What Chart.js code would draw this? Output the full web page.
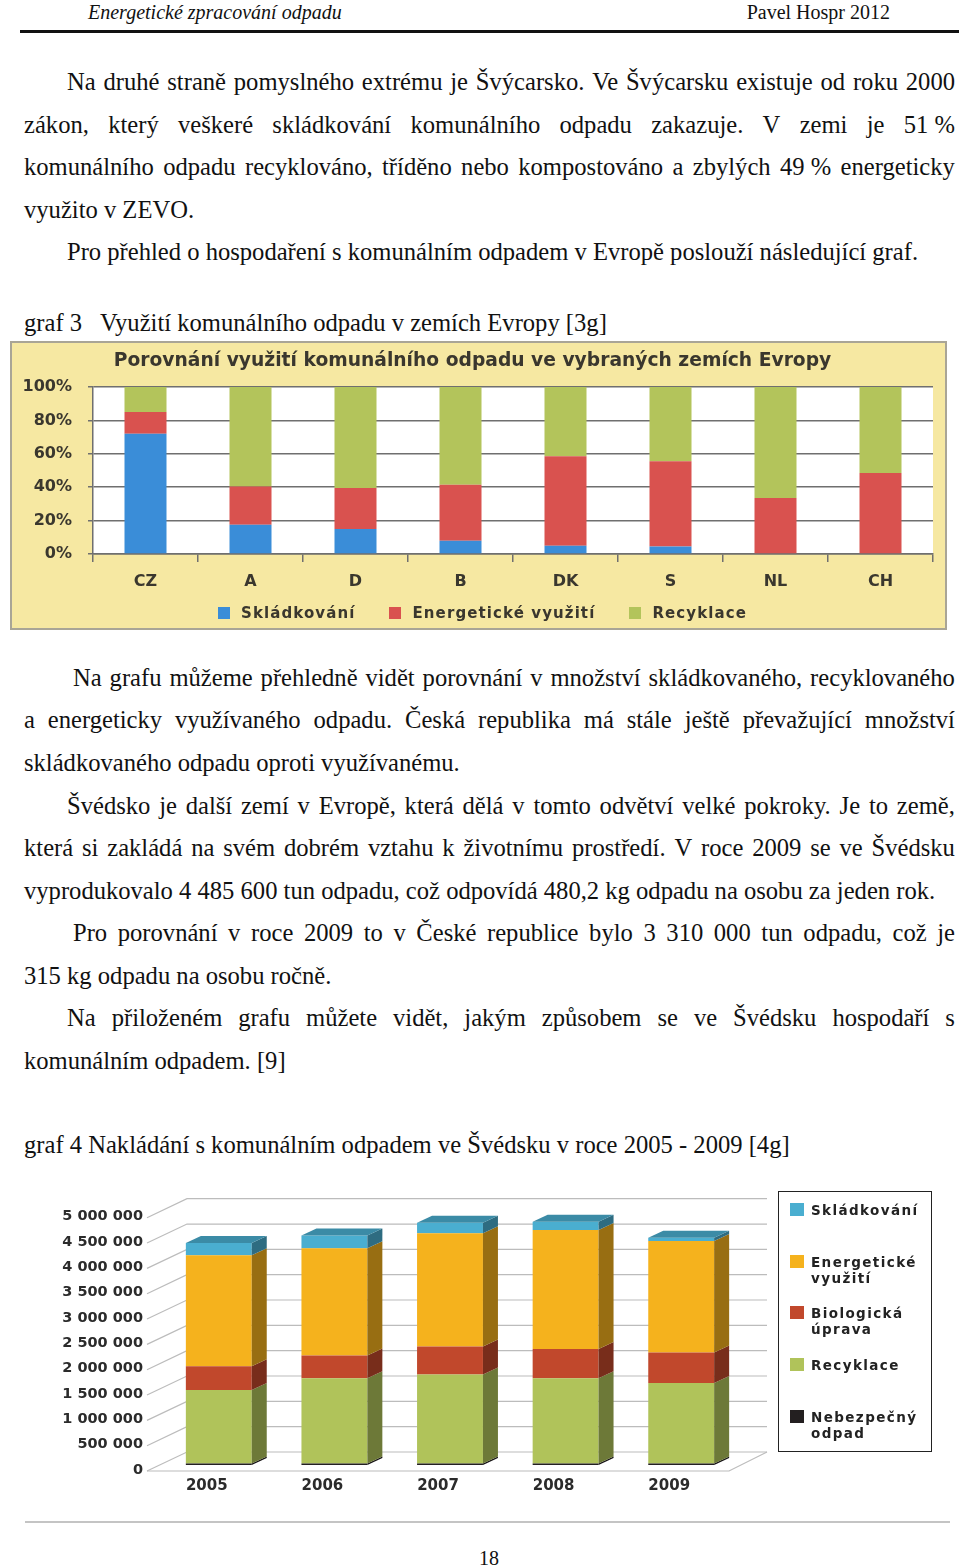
<!DOCTYPE html>
<html>
<head>
<meta charset="utf-8">
<script src="https://cdn.jsdelivr.net/npm/chart.js@4.4.1/dist/chart.umd.min.js"></script>
<style>
  body { margin: 0; background: #fff; }
  .page { position: relative; width: 960px; height: 1568px; overflow: hidden; font-family: "Liberation Serif", "Times New Roman", serif; color: #111; }
  .ln { position: absolute; height: 42px; line-height: 42px; font-size: 24.6px; white-space: nowrap; }
  .j { display: flex; justify-content: space-between; }
  .hdr { position: absolute; top: 0; font-size: 20px; line-height: 24px; }
  #box1 { position: absolute; left: 10px; top: 341px; width: 937px; height: 289px; box-sizing: border-box; border: 2px solid #a9a596; background: #f6e8a2; }
  #box2 { position: absolute; left: 25px; top: 1185px; width: 925px; height: 315px; }
  #legend1 { position: absolute; left: 218px; top: 603px; height: 20px; display: flex; align-items: center; font: bold 15px "DejaVu Sans", sans-serif; letter-spacing: 1.1px; color: #3a372e; }
  #legend1 .it { display: flex; align-items: center; margin-right: 34px; }
  #legend1 .sw { width: 12px; height: 12px; margin-right: 11px; }
  #legend2 { position: absolute; left: 778px; top: 1191px; width: 154px; height: 261px; box-sizing: border-box; border: 1.5px solid #222; background: #fff; padding-top: 10px; }
  #legend2 .it { position: relative; height: 51.7px; font: bold 13.5px "DejaVu Sans", sans-serif; letter-spacing: 1.4px; line-height: 16px; color: #222; padding-left: 32px; }
  #legend2 .sw { position: absolute; left: 11px; top: 1px; width: 14px; height: 13px; }
</style>
</head>
<body>
<div class="page">
  <div class="hdr" style="left:88px;font-style:italic;">Energetické zpracování odpadu</div>
  <div class="hdr" style="right:70px;">Pavel Hospr 2012</div>
  <div style="position:absolute;left:20px;top:30px;width:939px;height:3px;background:#111;"></div>

  <div class="ln j" style="left:67px;width:888px;top:61px;">Na druhé straně pomyslného extrému je Švýcarsko. Ve Švýcarsku existuje od roku 2000</div>
  <div class="ln j" style="left:24px;width:931px;top:104px;">zákon, který veškeré skládkování komunálního odpadu zakazuje. V zemi je 51&nbsp;%</div>
  <div class="ln j" style="left:24px;width:931px;top:146px;">komunálního odpadu recyklováno, tříděno nebo kompostováno a zbylých 49&nbsp;% energeticky</div>
  <div class="ln" style="left:24px;top:189px;">využito v ZEVO.</div>
  <div class="ln" style="left:67px;top:231px;">Pro přehled o hospodaření s komunálním odpadem v Evropě poslouží následující graf.</div>
  <div class="ln" style="left:24px;top:302px;">graf 3&nbsp;&nbsp; Využití komunálního odpadu v zemích Evropy [3g]</div>

  <div id="box1"><canvas id="chart1"></canvas></div>
  <div id="legend1"></div>

  <div class="ln j" style="left:73px;width:882px;top:657px;">Na grafu můžeme přehledně vidět porovnání v množství skládkovaného, recyklovaného</div>
  <div class="ln j" style="left:24px;width:931px;top:699px;">a energeticky využívaného odpadu. Česká republika má stále ještě převažující množství</div>
  <div class="ln" style="left:24px;top:742px;">skládkovaného odpadu oproti využívanému.</div>
  <div class="ln j" style="left:67px;width:888px;top:785px;">Švédsko je další zemí v Evropě, která dělá v tomto odvětví velké pokroky. Je to země,</div>
  <div class="ln j" style="left:24px;width:931px;top:827px;">která si zakládá na svém dobrém vztahu k životnímu prostředí. V roce 2009 se ve Švédsku</div>
  <div class="ln" style="left:24px;top:870px;">vyprodukovalo 4 485 600 tun odpadu, což odpovídá 480,2 kg odpadu na osobu za jeden rok.</div>
  <div class="ln j" style="left:73px;width:882px;top:912px;">Pro porovnání v roce 2009 to v České republice bylo 3 310 000 tun odpadu, což je</div>
  <div class="ln" style="left:24px;top:955px;">315 kg odpadu na osobu ročně.</div>
  <div class="ln j" style="left:67px;width:888px;top:997px;">Na přiloženém grafu můžete vidět, jakým způsobem se ve Švédsku hospodaří s</div>
  <div class="ln" style="left:24px;top:1040px;">komunálním odpadem. [9]</div>
  <div class="ln" style="left:24px;top:1124px;">graf 4 Nakládání s komunálním odpadem ve Švédsku v roce 2005 - 2009 [4g]</div>

  <div id="box2"><canvas id="chart2"></canvas></div>
  <div id="legend2"></div>

  <div style="position:absolute;left:25px;top:1521px;width:925px;height:2px;background:#c4c4c4;"></div>
  <div class="hdr" style="top:1546px;left:0;width:978px;text-align:center;">18</div>
</div>

<script>
// graf 3 - podily v %
const countries = ['CZ', 'A', 'D', 'B', 'DK', 'S', 'NL', 'CH'];
const skladkovani = [72, 17.5, 15, 8, 5, 4.5, 0, 0];
const energeticke = [13, 23, 24.5, 33.5, 53.5, 51, 33.5, 48.5];
const recyklace = [15, 59.5, 60.5, 58.5, 41.5, 44.5, 66.5, 51.5];
const percentTicks = [0, 20, 40, 60, 80, 100];

// graf 4 - Svedsko, tuny
const years = ['2005', '2006', '2007', '2008', '2009'];
const svNebezpecny = [30000, 30000, 30000, 30000, 30000];
const svRecyklace = [1450000, 1680000, 1755000, 1680000, 1590000];
const svBiologicka = [470000, 450000, 555000, 580000, 600000];
const svEnergeticke = [2190000, 2120000, 2235000, 2350000, 2200000];
const svSkladkovani = [240000, 250000, 205000, 160000, 65000];
const tonTicks = [0, 500000, 1000000, 1500000, 2000000, 2500000, 3000000, 3500000, 4000000, 4500000, 5000000];

// justified lines -> flex of words
document.querySelectorAll('.j').forEach(function (el) {
  const words = el.textContent.split(' ');
  el.textContent = '';
  words.forEach(function (w) {
    const s = document.createElement('span');
    s.textContent = w;
    el.appendChild(s);
  });
});

const sans = '"DejaVu Sans", Verdana, sans-serif';

function htmlLegend(el, datasets, lines) {
  datasets.forEach(function (ds) {
    const it = document.createElement('div');
    it.className = 'it';
    const sw = document.createElement('span');
    sw.className = 'sw';
    sw.style.background = ds.backgroundColor;
    it.appendChild(sw);
    (lines ? lines[ds.label] : [ds.label]).forEach(function (t) {
      const d = document.createElement('div');
      d.textContent = t;
      it.appendChild(d);
    });
    el.appendChild(it);
  });
}

const whiteArea = {
  id: 'whiteArea',
  beforeDraw(chart) {
    const a = chart.chartArea;
    chart.ctx.save();
    chart.ctx.fillStyle = '#ffffff';
    chart.ctx.fillRect(a.left, a.top, a.right - a.left, a.bottom - a.top);
    chart.ctx.restore();
  }
};

const series1 = [
  { label: 'Skládkování', data: skladkovani, backgroundColor: '#3a8dd8' },
  { label: 'Energetické využití', data: energeticke, backgroundColor: '#d9524f' },
  { label: 'Recyklace', data: recyklace, backgroundColor: '#b3c45b' }
];

new Chart(document.getElementById('chart1'), {
  type: 'bar',
  data: { labels: countries, datasets: series1 },
  options: {
    responsive: true,
    maintainAspectRatio: false,
    animation: false,
    categoryPercentage: 1,
    barPercentage: 0.4,
    layout: { padding: { left: 0, right: 12, top: 0, bottom: 31 } },
    plugins: {
      title: {
        display: true,
        text: 'Porovnání využití komunálního odpadu ve vybraných zemích Evropy',
        color: '#3a372e',
        font: { family: sans, size: 18.7, weight: 'bold', lineHeight: 1.2 },
        padding: { top: 6.8, bottom: 14.8 }
      },
      legend: { display: false },
      tooltip: { enabled: false }
    },
    scales: {
      x: {
        stacked: true,
        grid: { offset: true, drawOnChartArea: false, tickLength: 8, color: '#6f6f6f', lineWidth: 1.5 },
        border: { color: '#6f6f6f', width: 1.5 },
        ticks: { color: '#3a372e', padding: 10, font: { family: sans, size: 16, weight: 'bold' } },
        afterFit(s) { s.height = 43; }
      },
      y: {
        stacked: true,
        min: 0,
        max: 100,
        afterBuildTicks(s) { s.ticks = percentTicks.map(v => ({ value: v })); },
        grid: { color: '#6f6f6f', lineWidth: 1.5, tickLength: 5 },
        border: { color: '#6f6f6f', width: 1.5 },
        ticks: { color: '#3a372e', padding: 16, font: { family: sans, size: 16, weight: 'bold' }, callback: v => v + '%' },
        afterFit(s) { s.width = 81; }
      }
    }
  },
  plugins: [whiteArea]
});
htmlLegend(document.getElementById('legend1'), series1);

// 3D look for graf 4: side and top faces from bar elements
function shade(hex, f) {
  const n = parseInt(hex.slice(1), 16);
  const r = Math.round(((n >> 16) & 255) * f), g = Math.round(((n >> 8) & 255) * f), b = Math.round((n & 255) * f);
  return 'rgb(' + r + ',' + g + ',' + b + ')';
}
const faces = {
  id: 'faces',
  afterDatasetsDraw(chart) {
    const ctx = chart.ctx, dx = 15, dy = 7;
    const last = chart.data.datasets.length - 1;
    chart.data.datasets.forEach(function (ds, i) {
      chart.getDatasetMeta(i).data.forEach(function (bar) {
        const p = bar.getProps(['x', 'y', 'base', 'width'], true);
        const l = p.x - p.width / 2, r = p.x + p.width / 2;
        ctx.save();
        ctx.fillStyle = shade(ds.backgroundColor, 0.62);
        ctx.beginPath();
        ctx.moveTo(r, p.y); ctx.lineTo(r + dx, p.y - dy); ctx.lineTo(r + dx, p.base - dy); ctx.lineTo(r, p.base);
        ctx.closePath(); ctx.fill();
        if (i === last) {
          ctx.fillStyle = shade(ds.backgroundColor, 0.8);
          ctx.beginPath();
          ctx.moveTo(l, p.y); ctx.lineTo(l + dx, p.y - dy); ctx.lineTo(r + dx, p.y - dy); ctx.lineTo(r, p.y);
          ctx.closePath(); ctx.fill();
        }
        ctx.restore();
      });
    });
  }
};

// back wall grid: diagonal from the tick label, then horizontal behind the bars
const wallGrid = {
  id: 'wallGrid',
  beforeDatasetsDraw(chart) {
    const ctx = chart.ctx, a = chart.chartArea, y = chart.scales.y;
    ctx.save();
    ctx.strokeStyle = '#bcbcbc';
    ctx.lineWidth = 1.2;
    y.ticks.forEach(function (t) {
      const py = y.getPixelForValue(t.value);
      ctx.beginPath();
      ctx.moveTo(a.left - 14, py + 6);
      ctx.lineTo(a.left + 26, py - 13);
      ctx.lineTo(a.right + 28, py - 13);
      ctx.stroke();
    });
    const p0 = y.getPixelForValue(0);
    ctx.beginPath();
    ctx.moveTo(a.left - 14, p0 + 6);
    ctx.lineTo(a.right - 10, p0 + 6);
    ctx.lineTo(a.right + 28, p0 - 13);
    ctx.stroke();
    ctx.restore();
  }
};

const seriesSv = [
  { label: 'Nebezpečný odpad', data: svNebezpecny, backgroundColor: '#231f20' },
  { label: 'Recyklace', data: svRecyklace, backgroundColor: '#b0c35a' },
  { label: 'Biologická úprava', data: svBiologicka, backgroundColor: '#c1482c' },
  { label: 'Energetické využití', data: svEnergeticke, backgroundColor: '#f5b21d' },
  { label: 'Skládkování', data: svSkladkovani, backgroundColor: '#4aaed0' }
];

new Chart(document.getElementById('chart2'), {
  type: 'bar',
  data: { labels: years, datasets: seriesSv },
  options: {
    responsive: true,
    maintainAspectRatio: false,
    animation: false,
    categoryPercentage: 1,
    barPercentage: 0.57,
    layout: { padding: { left: 0, right: 211, top: 21, bottom: 0 } },
    plugins: { legend: { display: false }, tooltip: { enabled: false } },
    scales: {
      x: {
        stacked: true,
        grid: { display: false, drawTicks: false },
        border: { display: false },
        ticks: { color: '#2b2b2b', padding: 12, labelOffset: -12, font: { family: sans, size: 15, weight: 'bold' } },
        afterFit(s) { s.height = 35; }
      },
      y: {
        stacked: true,
        min: 0,
        max: 5000000,
        afterBuildTicks(s) { s.ticks = tonTicks.map(v => ({ value: v })); },
        grid: { display: false, drawTicks: false },
        border: { display: false },
        ticks: {
          color: '#2b2b2b', padding: 18, labelOffset: 5,
          font: { family: sans, size: 14.5, weight: 'bold' },
          callback: v => String(v).replace(/\B(?=(\d{3})+(?!\d))/g, ' ')
        },
        afterFit(s) { s.width = 136; }
      }
    }
  },
  plugins: [wallGrid, faces]
});

// legenda graf 4 (poradi jako v originale, shora dolu)
htmlLegend(document.getElementById('legend2'), seriesSv.slice().reverse(), {
  'Skládkování': ['Skládkování'],
  'Energetické využití': ['Energetické', 'využití'],
  'Biologická úprava': ['Biologická', 'úprava'],
  'Recyklace': ['Recyklace'],
  'Nebezpečný odpad': ['Nebezpečný', 'odpad']
});
</script>
</body>
</html>
